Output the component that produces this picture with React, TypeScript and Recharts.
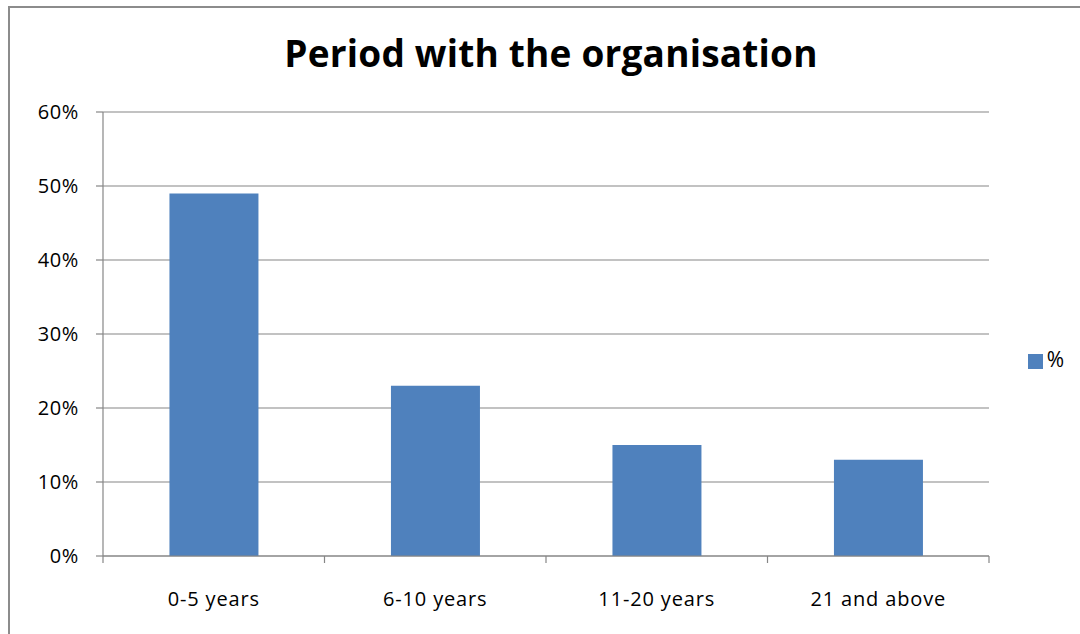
import React from 'react';
import { BarChart, Bar, XAxis, YAxis, CartesianGrid, Legend } from 'recharts';

const categories = ['0-5 years', '6-10 years', '11-20 years', '21 and above'];
const percentValues = [49, 23, 15, 13];
const yTicks = [0, 10, 20, 30, 40, 50, 60];

const data = categories.map((name, i) => ({ name, value: percentValues[i] }));

const FONT = '"Open Sans", Lato, sans-serif';
const GRID = '#868686';
const TICK_SIZE = 7;
const TICK_MARGIN = 23;

// category label plus the boundary tick marks between categories
const CategoryTick = (props: any) => {
  const { x, y, payload, index, visibleTicksCount } = props;
  const half = payload.offset || 0;
  const top = y - TICK_SIZE - TICK_MARGIN;
  const isLast = index === visibleTicksCount - 1;
  return (
    <g>
      <line x1={x - half} x2={x - half} y1={top} y2={top + TICK_SIZE} stroke={GRID} strokeWidth={1.2} />
      {isLast && (
        <line x1={x + half} x2={x + half} y1={top} y2={top + TICK_SIZE} stroke={GRID} strokeWidth={1.2} />
      )}
      <text
        x={x}
        y={y + 6}
        dy="0.71em"
        textAnchor="middle"
        fill="#000"
        fontSize={20}
        letterSpacing={0.85}
        fontFamily={FONT}
      >
        {payload.value}
      </text>
    </g>
  );
};

const App: React.FC = () => {
  return (
    <div
      style={{
        position: 'fixed',
        left: 0,
        top: 0,
        width: 1080,
        height: 634,
        overflow: 'hidden',
        background: '#fff',
        fontFamily: FONT,
      }}
    >
      <div
        style={{
          position: 'absolute',
          left: 8,
          top: 6,
          width: 1200,
          height: 800,
          border: '2px solid #8c8c8c',
        }}
      />
      <div
        style={{
          position: 'absolute',
          left: 0,
          top: 27,
          width: 1102,
          textAlign: 'center',
          fontSize: 37,
          letterSpacing: 0.2,
          fontWeight: 700,
          color: '#000',
        }}
      >
        Period with the organisation
      </div>
      <div style={{ position: 'absolute', left: 0, top: 0 }}>
        <BarChart
          width={1080}
          height={634}
          data={data}
          margin={{ top: 112, right: 91, left: 0, bottom: 0 }}
          barCategoryGap="30%"
        >
          <CartesianGrid vertical={false} stroke={GRID} strokeWidth={1.2} />
          <XAxis
            dataKey="name"
            height={78}
            tickLine={{ stroke: 'none' }}
            tickSize={TICK_SIZE}
            tickMargin={TICK_MARGIN}
            axisLine={{ stroke: GRID, strokeWidth: 1.2 }}
            tick={<CategoryTick />}
            interval={0}
          />
          <YAxis
            width={103}
            domain={[0, 60]}
            ticks={yTicks}
            tickFormatter={(v: number) => `${v}%`}
            axisLine={{ stroke: GRID, strokeWidth: 1.2 }}
            tickLine={{ stroke: GRID, strokeWidth: 1.2 }}
            tickSize={7}
            tickMargin={17}
            tick={{ fill: '#000', fontSize: 20, letterSpacing: 0.6, fontFamily: FONT }}
          />
          <Legend
            layout="horizontal"
            verticalAlign="middle"
            align="center"
            iconType="square"
            iconSize={15}
            wrapperStyle={{ left: 1021, top: 345, width: 60, fontSize: 21, fontFamily: FONT }}
            formatter={(v: string) => <span style={{ color: '#000' }}>{v}</span>}
          />
          <Bar dataKey="value" name="%" fill="#4F81BD" isAnimationActive={false} />
        </BarChart>
      </div>
    </div>
  );
};

export default App;
